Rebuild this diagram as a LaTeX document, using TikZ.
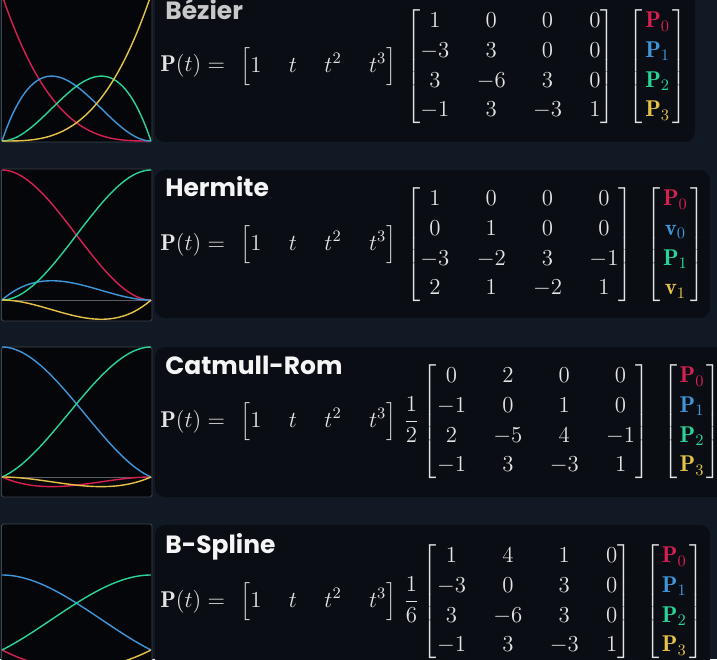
\documentclass[tikz,border=0pt]{standalone}
\usepackage{fix-cm}
\usepackage{amsmath}
\usepackage{fontspec}
\newfontfamily\headfont{Poppins}

\definecolor{bgnavy}{RGB}{17,26,36}
\definecolor{panelfill}{RGB}{10,13,19}
\definecolor{boxfill}{RGB}{5,6,9}
\definecolor{boxline}{RGB}{62,68,76}
\definecolor{zerogray}{RGB}{90,94,100}
\definecolor{mathwhite}{RGB}{228,228,228}
\definecolor{headwhite}{RGB}{245,245,245}
\definecolor{headgray}{RGB}{200,200,200}
\definecolor{cred}{RGB}{214,32,82}
\definecolor{cblue}{RGB}{62,150,218}
\definecolor{cgreen}{RGB}{42,212,150}
\definecolor{cyellow}{RGB}{228,194,72}

% row vector and coloured control vector
\newcommand{\basisrow}{\mkern7mu\begin{bmatrix}1 & t & t^2 & t^3\end{bmatrix}}
\newcommand{\ctrlvec}[4]{\begin{bmatrix}\mkern2mu{\color{cred}#1}\mkern2mu\\\mkern2mu{\color{cblue}#2}\mkern2mu\\\mkern2mu{\color{cgreen}#3}\mkern2mu\\\mkern2mu{\color{cyellow}#4}\mkern2mu\end{bmatrix}}

\begin{document}
\begin{tikzpicture}[
  plotbox/.style={fill=boxfill, draw=boxline, line width=0.5pt, rounded corners=1pt},
  panel/.style={fill=panelfill, rounded corners=0.2cm},
  basis/.style={line width=0.8pt, domain=0:1, samples=60, smooth},
  zeroline/.style={draw=zerogray, line width=0.4pt},
  heading/.style={anchor=base west, inner sep=0pt, text=headwhite, font=\headfont\bfseries\fontsize{14.2}{17}\selectfont},
  eqn/.style={anchor=base west, inner sep=0pt, text=mathwhite,
    font=\fontsize{13}{16.9}\selectfont\setlength{\arraycolsep}{0.6em}}
]

% Frame
\useasboundingbox (0,0) rectangle (14.34,13.18);
\clip (0,0) rectangle (14.34,13.18);
\fill[bgnavy] (0,0) rectangle (14.34,13.18);

% Bezier row
\draw[plotbox] (0.03,10.34) rectangle (3.04,13.36);
\fill[panel] (3.1,10.34) rectangle (13.9,13.58);
\begin{scope}[shift={(0.04,10.36)}, xscale=2.98, yscale=2.92]
  \draw[basis, cred] plot (\x, {(1-\x)*(1-\x)*(1-\x)});
  \draw[basis, cblue] plot (\x, {3*\x*(1-\x)*(1-\x)});
  \draw[basis, cgreen] plot (\x, {3*\x*\x*(1-\x)});
  \draw[basis, cyellow] plot (\x, {\x*\x*\x});
\end{scope}
\node[heading, text=headgray] (T1) at (3.3,12.78) {Bézier};
\node[eqn] (E1) at (3.2,11.74) {$\mathbf{P}(t) = \basisrow\;
  \begin{bmatrix} 1&0&0&0\\ -3&3&0&0\\ 3&-6&3&0\\ -1&3&-3&1 \end{bmatrix}\;\,
  \ctrlvec{\mathbf{P}_0}{\mathbf{P}_1}{\mathbf{P}_2}{\mathbf{P}_3}$};

% Hermite row
\draw[plotbox] (0.03,6.76) rectangle (3.04,9.8);
\fill[panel] (3.1,6.82) rectangle (14.2,9.78);
\draw[zeroline] (0.03,7.18) -- (3.04,7.18);
\begin{scope}[shift={(0.04,7.18)}, xscale=2.98, yscale=2.6]
  \draw[basis, cred] plot (\x, {2*\x*\x*\x - 3*\x*\x + 1});
  \draw[basis, cblue] plot (\x, {\x*\x*\x - 2*\x*\x + \x});
  \draw[basis, cgreen] plot (\x, {3*\x*\x - 2*\x*\x*\x});
  \draw[basis, cyellow] plot (\x, {\x*\x*\x - \x*\x});
\end{scope}
\node[heading] (T2) at (3.3,9.24) {Hermite};
\node[eqn] (E2) at (3.2,8.18) {$\mathbf{P}(t) = \basisrow\;
  \begin{bmatrix} 1&0&0&0\\ 0&1&0&0\\ -3&-2&3&-1\\ 2&1&-2&1 \end{bmatrix}\;\,
  \ctrlvec{\mathbf{P}_0}{\mathbf{v}_0}{\mathbf{P}_1}{\mathbf{v}_1}$};

% Catmull-Rom row
\draw[plotbox] (0.03,3.24) rectangle (3.04,6.24);
\fill[panel] (3.1,3.24) rectangle (14.8,6.24);
\draw[zeroline] (0.03,3.64) -- (3.04,3.64);
\begin{scope}[shift={(0.04,3.64)}, xscale=2.98, yscale=2.6]
  \draw[basis, cred] plot (\x, {0.5*(2*\x*\x - \x - \x*\x*\x)});
  \draw[basis, cblue] plot (\x, {0.5*(2 - 5*\x*\x + 3*\x*\x*\x)});
  \draw[basis, cgreen] plot (\x, {0.5*(\x + 4*\x*\x - 3*\x*\x*\x)});
  \draw[basis, cyellow] plot (\x, {0.5*(\x*\x*\x - \x*\x)});
\end{scope}
\node[heading] (T3) at (3.3,5.7) {Catmull-Rom};
\node[eqn] (E3) at (3.2,4.64) {$\mathbf{P}(t) = \basisrow\,\dfrac{1}{2}
  \begin{bmatrix} 0&2&0&0\\ -1&0&1&0\\ 2&-5&4&-1\\ -1&3&-3&1 \end{bmatrix}\;\,
  \ctrlvec{\mathbf{P}_0}{\mathbf{P}_1}{\mathbf{P}_2}{\mathbf{P}_3}$};

% B-Spline row
\draw[plotbox] (0.03,-0.34) rectangle (3.04,2.7);
\fill[panel] (3.1,-0.62) rectangle (14.2,2.68);
\begin{scope}[shift={(0.04,-0.32)}, xscale=2.98, yscale=3.0]
  \draw[basis, cred] plot (\x, {(1-\x)*(1-\x)*(1-\x)/6});
  \draw[basis, cblue] plot (\x, {(3*\x*\x*\x - 6*\x*\x + 4)/6});
  \draw[basis, cgreen] plot (\x, {(3*\x*\x + 3*\x + 1 - 3*\x*\x*\x)/6});
  \draw[basis, cyellow] plot (\x, {\x*\x*\x/6});
\end{scope}
\node[heading] (T4) at (3.3,2.12) {B-Spline};
\node[eqn] (E4) at (3.2,1.04) {$\mathbf{P}(t) = \basisrow\,\dfrac{1}{6}
  \begin{bmatrix} 1&4&1&0\\ -3&0&3&0\\ 3&-6&3&0\\ -1&3&-3&1 \end{bmatrix}\;\,
  \ctrlvec{\mathbf{P}_0}{\mathbf{P}_1}{\mathbf{P}_2}{\mathbf{P}_3}$};

\end{tikzpicture}
\end{document}
